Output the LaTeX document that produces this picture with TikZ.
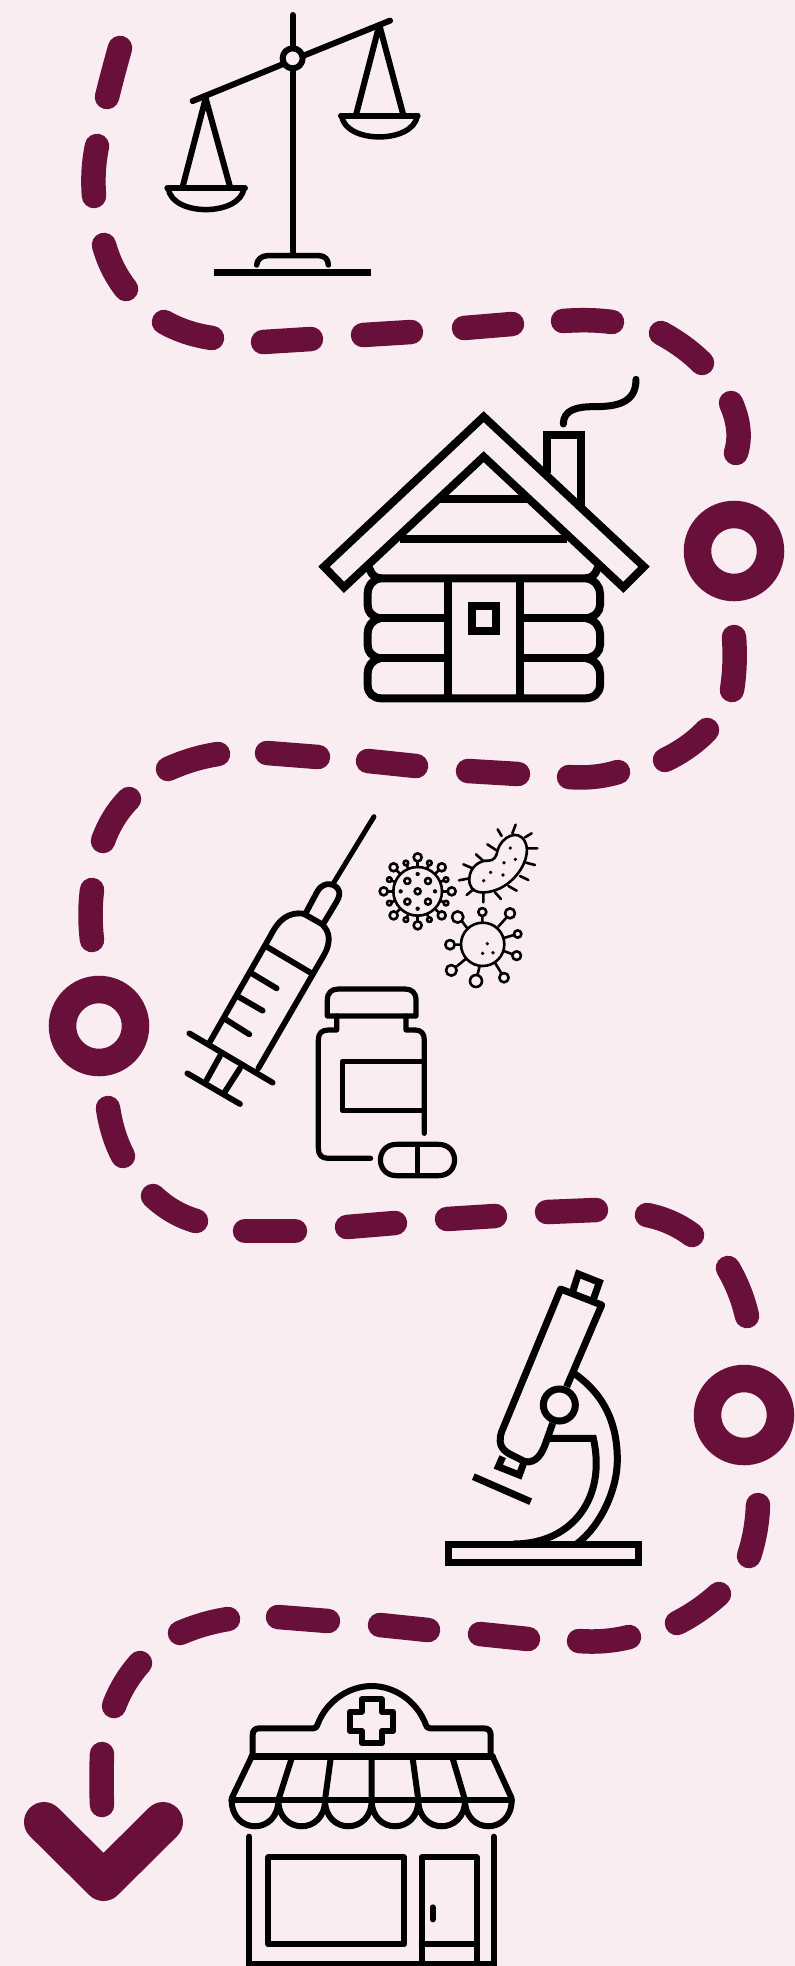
\documentclass[tikz,border=0pt]{standalone}
\definecolor{bgpink}{RGB}{249,237,241}
\definecolor{plum}{RGB}{104,15,58}
\tikzset{
  dsh/.style={draw=plum,line width=24.5pt,line cap=round,line join=round},
  ring/.style={draw=plum,line width=27.5pt},
  ink/.style={draw=black,line width=#1,line cap=round,line join=round},
  ink/.default=6pt,
  zoomed/.style={shift={(#1)},x=0.33333pt,y=-0.33333pt}
}
\newcommand\qdash[6]{\draw[dsh] (#1,#2) .. controls ({#1+0.667*(#3-#1)},{#2+0.667*(#4-#2)}) and ({#5+0.667*(#3-#5)},{#6+0.667*(#4-#6)}) .. (#5,#6);}
\begin{document}
\begin{tikzpicture}[x=1pt,y=-1pt]
\useasboundingbox (0,0) rectangle (795,1966);
\fill[bgpink] (0,0) rectangle (795,1966);
% path: dashes
\qdash{120}{48}{113}{73}{107}{97}
\qdash{97}{146}{92}{170}{94}{196}
\qdash{104}{245}{111}{270}{126}{289}
\qdash{164}{322}{185}{334}{212}{338}
\draw[dsh] (263,342) -- (311,339);
\draw[dsh] (363,335) -- (411,332);
\draw[dsh] (464,328) -- (512,324);
\qdash{563}{321}{590}{319}{612}{322}
\qdash{661}{333}{685}{346}{702}{363}
\qdash{731}{403}{743}{430}{736}{453}
\draw[ring] (734,551) circle[radius=36.5];
\qdash{734}{637}{736}{665}{732}{690}
\qdash{707}{730}{690}{748}{665}{760}
\qdash{618}{772}{595}{779}{569}{777}
\draw[dsh] (518,774) -- (468,771);
\draw[dsh] (416,766) -- (368,761);
\draw[dsh] (318,757) -- (267,753);
\qdash{218}{754}{192}{758}{168}{769}
\qdash{129}{799}{112}{816}{103}{841}
\qdash{92}{890}{89}{915}{92}{940}
\draw[ring] (99,1026) circle[radius=36.5];
\qdash{108}{1108}{112}{1135}{123}{1156}
\qdash{153}{1196}{172}{1214}{196}{1221}
\draw[dsh] (245,1231) -- (295,1231);
\draw[dsh] (347,1227) -- (395,1223);
\draw[dsh] (447,1219) -- (495,1216);
\draw[dsh] (547,1212) -- (596,1210);
\qdash{647}{1215}{672}{1220}{692}{1235}
\qdash{728}{1268}{741}{1290}{747}{1316}
\draw[ring] (744,1415) circle[radius=36.5];
\qdash{758}{1505}{757}{1532}{749}{1556}
\qdash{719}{1594}{699}{1612}{677}{1623}
\qdash{629}{1637}{605}{1643}{579}{1641}
\draw[dsh] (528,1639) -- (480,1634);
\draw[dsh] (428,1630) -- (380,1625);
\draw[dsh] (328,1621) -- (278,1617);
\qdash{228}{1619}{203}{1623}{180}{1633}
\qdash{140}{1663}{123}{1682}{114}{1706}
\qdash{102}{1754}{101}{1780}{102}{1805}
\draw[draw=plum,line width=40pt,line cap=round,line join=round] (44,1822) -- (103.5,1881) -- (163,1822);
% scales
\begin{scope}[zoomed={60,0}]
\draw[ink=6pt] (698,45) -- (698,140);
\draw[ink=6pt] (698,210) -- (698,762);
\draw[ink=6pt] (398,303) -- (665,194);
\draw[ink=6pt] (733,166) -- (990,62);
\draw[ink=6pt] (698,175) circle[radius=30];
\draw[ink=6pt] (368,560) -- (437,295) -- (510,560);
\draw[ink=6pt] (888,345) -- (958,75) -- (1030,345);
\draw[ink=6pt] (322,565) -- (555,565);
\draw[ink=6pt] (843,347) -- (1073,347);
\draw[ink=5.5pt] (325,565) .. controls (335,650) and (540,650) .. (552,565);
\draw[ink=5.5pt] (845,347) .. controls (855,432) and (1060,432) .. (1072,347);
\draw[ink=5.5pt] (590,795) .. controls (590,780) and (605,767) .. (622,767) -- (778,767) .. controls (795,767) and (805,780) .. (805,795);
\draw[draw=black,line width=7pt] (463,817) -- (933,817);
\end{scope}
% log house
\begin{scope}[zoomed={300,360}]
\draw[draw=black,line width=8pt,line join=miter] (551,170) -- (72,620) -- (132,682) -- (551,290) -- (970,682) -- (1032,620) -- cycle;
\draw[draw=black,line width=8pt] (742,340) -- (742,225) -- (842,225) -- (842,440);
\draw[ink=7pt] (790,192) .. controls (790,150) and (830,140) .. (880,140) .. controls (950,140) and (1008,130) .. (1008,58);
\draw[draw=black,line width=8pt] (420,417) -- (680,417) (300,537) -- (800,537);
\draw[ink=8pt] (208,625) .. controls (215,645) and (225,655) .. (245,655) -- (855,655) .. controls (875,655) and (885,645) .. (893,625);
\draw[ink=8pt] (240,655) .. controls (215,660) and (203,680) .. (203,700) -- (203,735) .. controls (203,755) and (215,770) .. (240,775)
  .. controls (215,780) and (203,800) .. (203,820) -- (203,855) .. controls (203,875) and (215,890) .. (240,895)
  .. controls (215,900) and (203,920) .. (203,940) -- (203,975) .. controls (203,1000) and (220,1015) .. (245,1015)
  -- (855,1015) .. controls (880,1015) and (900,1000) .. (900,975) -- (900,940) .. controls (900,920) and (885,900) .. (860,895)
  .. controls (885,890) and (900,875) .. (900,855) -- (900,820) .. controls (900,800) and (885,780) .. (860,775)
  .. controls (885,770) and (900,755) .. (900,735) -- (900,700) .. controls (900,680) and (885,660) .. (860,655);
\draw[draw=black,line width=8pt] (240,775) -- (443,775) (240,895) -- (443,895) (660,775) -- (860,775) (660,895) -- (860,895);
\draw[draw=black,line width=8pt] (443,655) -- (443,1015) (660,655) -- (660,1015);
\draw[draw=black,line width=8pt] (515,738) rectangle (588,813);
\end{scope}
% syringe and bottle
\begin{scope}[zoomed={170,800}]
\draw[ink=5pt] (612,50) -- (490,250);
\draw[ink=5.8pt] (408,338) -- (440,278) .. controls (455,248) and (485,245) .. (503,265) .. controls (512,278) and (508,290) .. (500,305) -- (462,368);
\draw[ink=5.8pt] (120,725) -- (300,410) .. controls (318,375) and (340,342) .. (385,340) .. controls (395,340) and (400,340) .. (408,345) -- (455,372) .. controls (482,395) and (482,430) .. (462,465) -- (265,805);
\draw[ink=5.8pt] (58,700) -- (308,848);
\draw[ink=5.8pt] (290,440) -- (425,520);
\draw[ink=5.8pt] (245,520) -- (320,565) (205,590) -- (278,632) (165,657) -- (238,703);
\draw[ink=5.8pt] (150,768) -- (110,840) (210,805) -- (165,875);
\draw[ink=5.8pt] (52,820) -- (210,912);
\draw[ink=5.2pt] (472,648) -- (472,600) .. controls (472,578) and (485,567) .. (505,567) -- (705,567) .. controls (725,567) and (738,578) .. (738,600) -- (738,648) -- cycle;
\draw[ink=5.2pt] (500,648) -- (500,690) -- (475,690) .. controls (455,690) and (445,700) .. (445,720) -- (445,1045) .. controls (445,1065) and (455,1075) .. (475,1075) -- (602,1075);
\draw[ink=5.2pt] (708,648) -- (708,690) -- (735,690) .. controls (753,690) and (763,700) .. (763,720) -- (763,1000);
\draw[ink=5.2pt] (760,785) -- (517,785) -- (517,932) -- (760,932);
\draw[ink=5.2pt] (680,1033) -- (805,1033) .. controls (870,1033) and (870,1127) .. (805,1127) -- (680,1127) .. controls (615,1127) and (615,1033) .. (680,1033) -- cycle;
\draw[ink=5.2pt] (743,1035) -- (743,1125);
\end{scope}
% viruses and bacterium
\begin{scope}[zoomed={370,800}]
\draw[ink=2.6pt] (143,274) circle[radius=73];
\foreach \a in {0,45,...,315} {
  \draw[ink=2.6pt] (143,274) ++(\a:73) -- ++(\a:16);
  \draw[ink=2.6pt] (143,274) ++(\a:102) circle[radius=12];
}
\foreach \a in {22.5,67.5,...,337.5} {
  \draw[ink=2.6pt] (143,274) ++(\a:73) -- ++(\a:13);
  \draw[ink=2.6pt] (143,274) ++(\a:92) circle[radius=7];
}
\foreach \p in {(143,274),(112,243),(174,243),(112,305),(174,305)}
  \draw[ink=2.6pt] \p circle[radius=9];
\foreach \p in {(143,222),(92,274),(195,274),(143,326)}
  \fill[black] \p circle[radius=6.5];
\draw[ink=2.6pt] (338,433) circle[radius=65];
\draw[ink=2.6pt] (337,368) -- (337,348) (337,336) circle[radius=12];
\draw[ink=2.6pt] (385,380) -- (410,352) (420,340) circle[radius=15];
\draw[ink=2.6pt] (401,414) -- (432,405) (443,402) circle[radius=11];
\draw[ink=2.6pt] (402,453) -- (428,463) (440,467) circle[radius=13];
\draw[ink=2.6pt] (376,490) -- (395,521) (402,533) circle[radius=14];
\draw[ink=2.6pt] (329,498) -- (322,526) (318,543) circle[radius=18];
\draw[ink=2.6pt] (288,476) -- (258,501) (244,511) circle[radius=16];
\draw[ink=2.6pt] (273,434) -- (254,434) (240,434) circle[radius=14];
\draw[ink=2.6pt] (292,385) -- (276,364) (263,351) circle[radius=17];
\foreach \p in {(352,431),(338,460),(369,458)}
  \fill[black] \p circle[radius=5.5];
\draw[ink=2.6pt] (355,182) .. controls (372,182) and (380,170) .. (383,150) .. controls (395,110) and (445,85) .. (465,125)
  .. controls (485,165) and (450,235) .. (390,265) .. controls (345,285) and (295,285) .. (298,235)
  .. controls (300,200) and (330,180) .. (355,182) -- cycle;
\draw[ink=2.6pt] (383,88) -- (395,108) (437,74) -- (427,100) (485,100) -- (465,112) (502,145) -- (475,145)
  (495,195) -- (468,188) (475,240) -- (450,228) (440,272) -- (415,258) (393,297) -- (375,277)
  (340,307) -- (340,280) (290,285) -- (310,268) (267,241) -- (298,235) (280,193) -- (308,205)
  (318,163) -- (340,183) (352,133) -- (378,150);
\foreach \p in {(421,144),(436,178),(402,188),(362,217),(399,225),(341,242)}
  \fill[black] \p circle[radius=5.5];
\end{scope}
% microscope
\begin{scope}[zoomed={430,1250}]
\draw[draw=black,line width=7pt] (428,125) -- (445,72) -- (508,97) -- (490,148);
\draw[draw=black,line width=7pt,line join=round] (410,410) -- (515,165) -- (392,117) -- (215,545) .. controls (200,590) and (225,605) .. (245,615) -- (285,635) .. controls (320,640) and (335,610) .. (345,585) -- (368,520);
\draw[draw=black,line width=7pt] (388,465) circle[radius=48];
\draw[draw=black,line width=7pt] (218,620) -- (205,650) -- (268,675) -- (280,642);
\draw[draw=black,line width=7pt] (130,680) -- (302,755);
\draw[draw=black,line width=7pt] (358,565) -- (490,565) .. controls (530,740) and (430,882) .. (250,882);
\draw[draw=black,line width=7pt] (435,372) .. controls (530,440) and (562,530) .. (562,630) .. controls (562,720) and (510,830) .. (440,882);
\draw[draw=black,line width=7pt] (55,882) rectangle (625,938);
\end{scope}
% pharmacy
\begin{scope}[zoomed={210,1660}]
\draw[ink=6pt] (128,285) -- (128,225) .. controls (128,212) and (135,205) .. (148,205) -- (310,205) .. controls (318,205) and (320,200) .. (322,195) .. controls (350,120) and (420,78) .. (485,78) .. controls (550,78) and (620,120) .. (648,195) .. controls (650,200) and (652,205) .. (660,205) -- (822,205) .. controls (835,205) and (842,212) .. (842,225) -- (842,285);
\draw[ink=6pt] (485,118) -- (515,118) -- (515,155) -- (550,155) -- (550,213) -- (515,213) -- (515,250) -- (455,250) -- (455,213) -- (420,213) -- (420,155) -- (455,155) -- (455,118) -- cycle;
\draw[ink=6.5pt] (125,290) -- (848,290);
\draw[ink=6pt] (125,290) -- (65,415) (848,290) -- (905,415);
\draw[ink=6pt] (245,295) -- (205,420) (362,295) -- (345,420) (485,295) -- (485,420) (608,295) -- (625,420) (728,295) -- (765,420);
\draw[ink=6.5pt] (65,420) -- (905,420);
\draw[ink=6pt] (65,420) .. controls (65,525) and (205,525) .. (205,420)
  .. controls (205,525) and (345,525) .. (345,420)
  .. controls (345,525) and (485,525) .. (485,420)
  .. controls (485,525) and (625,525) .. (625,420)
  .. controls (625,525) and (765,525) .. (765,420)
  .. controls (765,525) and (905,525) .. (905,420);
\draw[ink=6pt] (118,530) -- (118,918) (851,530) -- (851,918);
\draw[ink=6pt] (118,912) -- (851,912);
\draw[ink=6pt] (175,592) rectangle (582,853);
\draw[ink=6pt] (635,918) -- (635,592) -- (800,592) -- (800,918) (635,853) -- (800,853);
\draw[ink=6pt] (668,742) -- (668,778);
\end{scope}
\end{tikzpicture}
\end{document}
